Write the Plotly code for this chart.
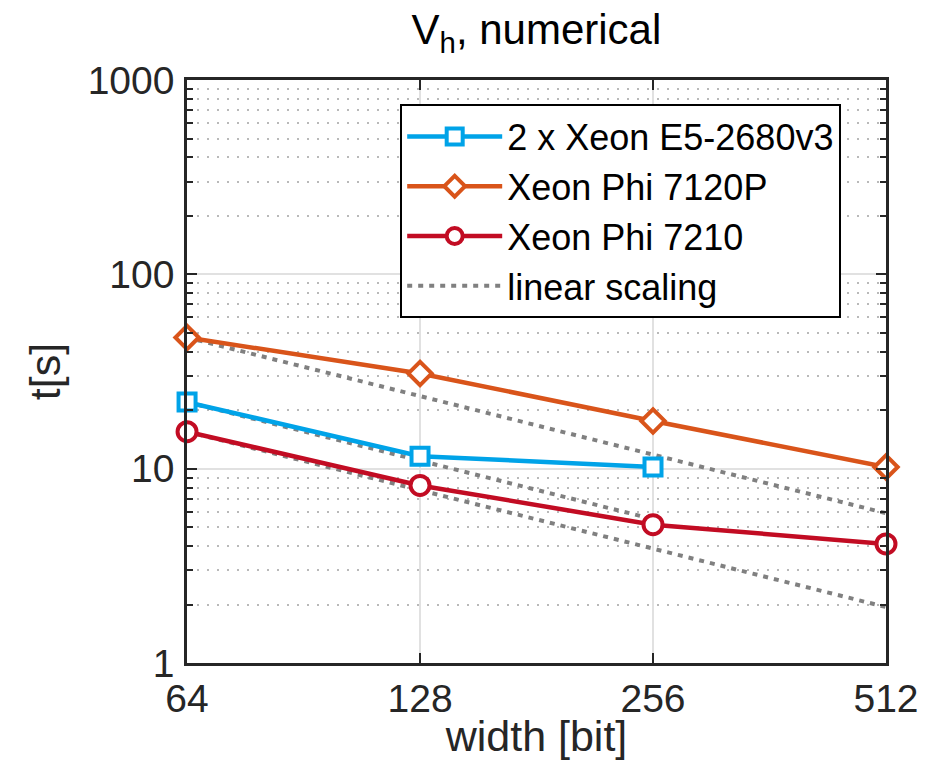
import plotly.graph_objects as go

# ---- data ----
widths = [64, 128, 256, 512]
xeon_e5 = [22.0, 11.6, 10.2]            # 2 x Xeon E5-2680v3 (64..256)
phi_7120p = [47.3, 30.9, 17.6, 10.2]    # Xeon Phi 7120P
phi_7210 = [15.5, 8.2, 5.15, 4.1]       # Xeon Phi 7210
lin_e5 = [22.0, 11.0, 5.5]              # linear scaling references
lin_7120p = [47.3, 23.65, 11.8, 5.9]
lin_7210 = [15.5, 7.75, 3.9, 1.94]

y_ticks = [1, 10, 100, 1000]
y_minor = [m * d for d in (1, 10, 100) for m in range(2, 10)]

BLUE = "rgb(0,163,232)"
ORANGE = "rgb(217,84,26)"
RED = "rgb(194,12,35)"
GREY = "rgb(128,128,128)"
AX = "rgb(38,38,38)"
FONT = "Liberation Sans, Arial, Helvetica, sans-serif"

fig = go.Figure()

def ref_line(y, n, show):
    fig.add_trace(go.Scatter(
        x=widths[:n], y=y, mode="lines", name="linear scaling",
        line=dict(color=GREY, width=4, dash="5px,6px"),
        showlegend=show, legendrank=4, cliponaxis=False))

ref_line(lin_7120p, 4, False)
ref_line(lin_e5, 3, False)
ref_line(lin_7210, 4, True)

fig.add_trace(go.Scatter(
    x=widths[:3], y=xeon_e5, mode="lines+markers", name="2 x Xeon E5-2680v3",
    line=dict(color=BLUE, width=4.5), cliponaxis=False,
    marker=dict(symbol="square", size=17, color="white", line=dict(color=BLUE, width=4)),
    legendrank=1))
fig.add_trace(go.Scatter(
    x=widths, y=phi_7120p, mode="lines+markers", name="Xeon Phi 7120P",
    line=dict(color=ORANGE, width=4.5), cliponaxis=False,
    marker=dict(symbol="diamond", size=18, color="white", line=dict(color=ORANGE, width=4)),
    legendrank=2))
fig.add_trace(go.Scatter(
    x=widths, y=phi_7210, mode="lines+markers", name="Xeon Phi 7210",
    line=dict(color=RED, width=4.5), cliponaxis=False,
    marker=dict(symbol="circle", size=19, color="white", line=dict(color=RED, width=4)),
    legendrank=3))

fig.update_layout(
    width=919, height=752,
    margin=dict(l=179, r=41, t=72, b=97, autoexpand=False),
    paper_bgcolor="white", plot_bgcolor="white",
    font=dict(family=FONT, color="black", size=38),
    title=dict(text="V<sub>h</sub>, numerical", x=0.575, xanchor="center",
               y=0.972, yanchor="middle", font=dict(size=42, color="black"),
               automargin=False),
    showlegend=True,
    legend=dict(x=0.305, y=0.958, xanchor="left", yanchor="top",
                bgcolor="white", bordercolor="black", borderwidth=2,
                font=dict(size=36, color="black"), itemwidth=95,
                traceorder="normal"),
)

fig.update_xaxes(
    type="log", range=[1.8061, 2.7093], automargin=False,
    tickvals=widths, ticktext=[str(w) for w in widths],
    showline=True, linecolor=AX, linewidth=2.5, mirror="allticks",
    ticks="inside", ticklen=10, tickwidth=2, tickcolor=AX,
    showgrid=True, gridcolor="rgb(225,225,225)", gridwidth=2,
    zeroline=False, tickfont=dict(size=39, color=AX), ticklabelstandoff=-1,
    title=dict(text="width [bit]", font=dict(size=43, color=AX), standoff=0),
)
fig.update_yaxes(
    type="log", range=[0, 3], automargin=False,
    tickvals=y_ticks, ticktext=[str(v) for v in y_ticks],
    showline=True, linecolor=AX, linewidth=2.5, mirror="allticks",
    ticks="inside", ticklen=10, tickwidth=2, tickcolor=AX,
    showgrid=True, gridcolor="rgb(225,225,225)", gridwidth=2,
    minor=dict(tickvals=y_minor, ticks="inside", ticklen=6, tickwidth=2,
               tickcolor=AX, showgrid=True,
               gridcolor="rgb(185,185,185)", griddash="2px,8px", gridwidth=2),
    zeroline=False, tickfont=dict(size=39, color=AX),
    ticklabelstandoff=2,
    title=dict(text="t[s]", font=dict(size=43, color=AX), standoff=14),
)

fig.write_html("out.html")
